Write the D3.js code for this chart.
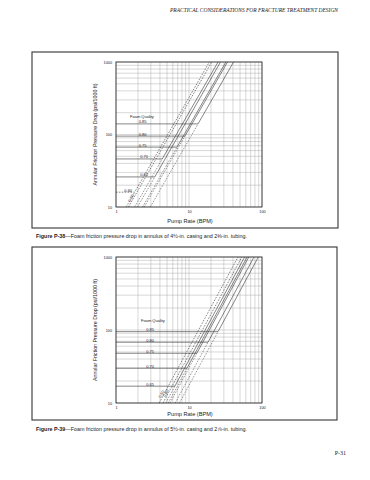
<!DOCTYPE html>
<html>
<head>
<meta charset="utf-8">
<script src="https://cdn.jsdelivr.net/npm/d3@7"></script>
<style>
body { margin: 0; background: #fff; }
svg { display: block; }
text { font-family: "Liberation Sans", Arial, sans-serif; fill: #222; }
</style>
</head>
<body>
<svg width="370" height="480"></svg>
<script>
// foam quality curves (rate in BPM, drop in psi/1000 ft)
var qualities = ['0.85', '0.80', '0.75', '0.70', '0.65', '0.60', '0.50'];

// Figure P-38: flat level, rate where the flat part meets the slope,
// and rate of the sloped line at the bottom (10) and top (1000) of the plot
var p38Level  = [140, 95, 67, 46, 26, 16, 10];
var p38Corner = [13.3, 8.8, 6.85, 4.3, 3.4, 1.8, 1.48];
var p38Bottom = [2.95, 2.43, 2.31, 1.8, 1.97, 1.38, 1.48];
var p38Top    = [40.8, 33.7, 32, 25, 27, 19, 20.5];

// Figure P-39
var p39Level  = [95, 68, 48, 30, 17, 10, 10];
var p39Corner = [25, 18.2, 12.8, 9.4, 6.4, 4.4, 3.9];
var p39Bottom = [7.4, 6.47, 5.49, 5.2, 4.8, 4.4, 3.9];
var p39Top    = [89, 77.7, 66, 62.5, 57.8, 52.9, 46.9];

var rateTicks = [1, 10, 100];
var dropTicks = [10, 100, 1000];

var svg = d3.select('svg');

svg.append('rect').attr('width', 370).attr('height', 480).attr('fill', '#fff');

// running header
svg.append('text')
    .attr('x', 338).attr('y', 12)
    .attr('text-anchor', 'end')
    .style('font-family', '"Liberation Serif", serif')
    .style('font-style', 'italic')
    .style('font-size', '5.2px')
    .attr('textLength', 168)
    .attr('lengthAdjust', 'spacingAndGlyphs')
    .text('PRACTICAL CONSIDERATIONS FOR FRACTURE TREATMENT DESIGN');

function drawChart(cfg) {
    var x = d3.scaleLog().domain([1, 100]).range([cfg.left, cfg.right]);
    var y = d3.scaleLog().domain([10, 1000]).range([cfg.bottom, cfg.top]);

    var g = svg.append('g');

    // outer box
    g.append('rect')
        .attr('x', cfg.frame[0]).attr('y', cfg.frame[1])
        .attr('width', cfg.frame[2]).attr('height', cfg.frame[3])
        .attr('fill', 'none')
        .attr('stroke', '#333')
        .attr('stroke-width', 1.1);

    // log grid
    g.selectAll('.vgrid')
        .data(x.ticks())
        .enter().append('line')
        .attr('class', 'vgrid')
        .attr('x1', function(d) { return x(d); })
        .attr('x2', function(d) { return x(d); })
        .attr('y1', cfg.top).attr('y2', cfg.bottom)
        .attr('stroke', '#a8a8a8')
        .attr('stroke-width', 0.45);

    g.selectAll('.hgrid')
        .data(y.ticks())
        .enter().append('line')
        .attr('class', 'hgrid')
        .attr('y1', function(d) { return y(d); })
        .attr('y2', function(d) { return y(d); })
        .attr('x1', cfg.left).attr('x2', cfg.right)
        .attr('stroke', '#a8a8a8')
        .attr('stroke-width', 0.45);

    g.append('rect')
        .attr('x', cfg.left).attr('y', cfg.top)
        .attr('width', cfg.right - cfg.left).attr('height', cfg.bottom - cfg.top)
        .attr('fill', 'none')
        .attr('stroke', '#222')
        .attr('stroke-width', 0.8);

    var clipId = 'clip' + cfg.name;
    g.append('clipPath').attr('id', clipId)
        .append('rect')
        .attr('x', cfg.left).attr('y', cfg.top)
        .attr('width', cfg.right - cfg.left).attr('height', cfg.bottom - cfg.top);

    var rows = qualities.map(function(q, i) {
        return { q: q, level: cfg.level[i], corner: cfg.corner[i], lo: cfg.lo[i], hi: cfg.hi[i] };
    });

    var line = d3.line()
        .x(function(d) { return x(d[0]); })
        .y(function(d) { return y(d[1]); });

    var curves = g.append('g').attr('clip-path', 'url(#' + clipId + ')');

    // sloped part below the knee
    curves.selectAll('.lower')
        .data(rows)
        .enter().append('path')
        .attr('class', 'lower')
        .attr('d', function(d) { return line([[d.lo, 10], [d.corner, d.level]]); })
        .attr('fill', 'none')
        .attr('stroke', '#333')
        .attr('stroke-width', 0.5)
        .attr('stroke-dasharray', '1.6,1.3');

    // flat part, knee and sloped part above
    curves.selectAll('.upper')
        .data(rows)
        .enter().append('path')
        .attr('class', 'upper')
        .attr('d', function(d) {
            var pts = d.level > 10 ? [[1, d.level], [d.corner, d.level]] : [[d.corner, d.level]];
            pts.push([d.hi, 1000]);
            return line(pts);
        })
        .attr('fill', 'none')
        .attr('stroke', '#222')
        .attr('stroke-width', 0.55)
        .attr('stroke-dasharray', function(d) { return cfg.dashed.indexOf(d.q) >= 0 ? '1.6,1.3' : null; });

    // flat labels
    g.selectAll('.qlab')
        .data(rows.filter(function(d) { return d.level > 10; }))
        .enter().append('text')
        .attr('class', 'qlab')
        .attr('x', function(d, i) { return x(cfg.labelRate[i]); })
        .attr('y', function(d) { return y(d.level) - 0.6; })
        .style('font-size', '4px')
        .text(function(d) { return d.q; });

    // labels laid along the slope
    g.selectAll('.slab')
        .data(rows.filter(function(d) { return d.level <= 10; }))
        .enter().append('text')
        .attr('class', 'slab')
        .attr('transform', function(d, i) {
            var x0 = x(d.lo), y0 = y(10), x1 = x(d.hi), y1 = y(1000);
            var a = Math.atan2(y1 - y0, x1 - x0);
            var s = cfg.slopeLabelAt[i];
            return 'translate(' + [x0 + Math.cos(a) * s, y0 + Math.sin(a) * s] + ') rotate(' + (a * 180 / Math.PI) + ')';
        })
        .attr('y', -0.8)
        .attr('text-anchor', 'middle')
        .style('font-size', '4px')
        .text(function(d) { return d.q; });

    g.append('text')
        .attr('x', cfg.foamAt[0]).attr('y', cfg.foamAt[1])
        .style('font-size', '4px')
        .text('Foam Quality');

    // axes, labels only
    var xa = g.append('g')
        .attr('transform', 'translate(0,' + cfg.bottom + ')')
        .call(d3.axisBottom(x).tickValues(rateTicks).tickFormat(d3.format('d')).tickSize(0).tickPadding(3));
    xa.select('.domain').remove();
    xa.selectAll('text').style('font-size', '3.8px').style('font-family', '"Liberation Sans", Arial, sans-serif');

    var ya = g.append('g')
        .attr('transform', 'translate(' + cfg.left + ',0)')
        .call(d3.axisLeft(y).tickValues(dropTicks).tickFormat(d3.format('d')).tickSize(0).tickPadding(4));
    ya.select('.domain').remove();
    ya.selectAll('text').style('font-size', '3.8px').style('font-family', '"Liberation Sans", Arial, sans-serif');

    g.append('text')
        .attr('x', (cfg.left + cfg.right) / 2 + 1)
        .attr('y', cfg.bottom + cfg.rateLabelGap)
        .attr('text-anchor', 'middle')
        .style('font-size', '5.6px')
        .text('Pump Rate (BPM)');

    g.append('text')
        .attr('transform', 'translate(' + (cfg.left - 19) + ',' + ((cfg.top + cfg.bottom) / 2) + ') rotate(-90)')
        .attr('text-anchor', 'middle')
        .style('font-size', '5px')
        .attr('textLength', 102)
        .attr('lengthAdjust', 'spacingAndGlyphs')
        .text('Annular Friction Pressure Drop (psi/1000 ft)');

    var cap = svg.append('text')
        .attr('x', 36).attr('y', cfg.captionY)
        .style('font-size', '5.4px');
    cap.append('tspan').style('font-weight', 'bold').text(cfg.figure);
    cap.append('tspan').text(cfg.caption);
}

drawChart({
    name: 'p38',
    left: 116, right: 262, top: 62, bottom: 207,
    frame: [32, 52, 306, 176],
    level: p38Level, corner: p38Corner, lo: p38Bottom, hi: p38Top,
    dashed: ['0.60', '0.50'],
    labelRate: [2.05, 2.05, 2.05, 2.15, 2.15, 1.3],
    slopeLabelAt: [9],
    foamAt: [130, 118],
    rateLabelGap: 16,
    figure: 'Figure P-38',
    caption: '\u2014Foam friction pressure drop in annulus of 4\u00bd-in. casing and 2\u215c-in. tubing.',
    captionY: 238
});

drawChart({
    name: 'p39',
    left: 116, right: 262, top: 257, bottom: 403,
    frame: [32, 247, 305, 173],
    level: p39Level, corner: p39Corner, lo: p39Bottom, hi: p39Top,
    dashed: ['0.60', '0.50'],
    labelRate: [2.6, 2.6, 2.6, 2.6, 2.6],
    slopeLabelAt: [10, 9],
    foamAt: [141, 322],
    rateLabelGap: 13,
    figure: 'Figure P-39',
    caption: '\u2014Foam friction pressure drop in annulus of 5\u00bd-in. casing and 2\u215e-in. tubing.',
    captionY: 431
});

svg.append('text')
    .attr('x', 346).attr('y', 455)
    .attr('text-anchor', 'end')
    .style('font-family', '"Liberation Serif", serif')
    .style('font-size', '6px')
    .text('P-31');
</script>
</body>
</html>
